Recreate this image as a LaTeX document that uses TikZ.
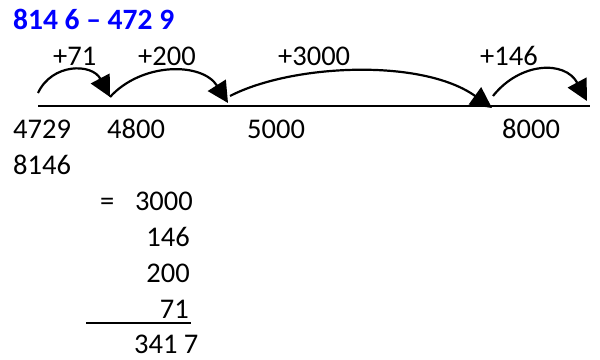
\documentclass[tikz,border=0pt]{standalone}
\usepackage{fontspec}
\setmainfont{Carlito}
\usetikzlibrary{arrows.meta}
\definecolor{titleblue}{RGB}{0,0,255}
\tikzset{
  num/.style={inner sep=0pt, anchor=base west, font=\fontsize{28.5}{34}\selectfont},
  numr/.style={num, anchor=base east},
  jump/.style={line width=2.2pt, -{Triangle[length=21pt,width=21pt]}},
}

\begin{document}
\begin{tikzpicture}[x=1pt, y=-1pt]
		%%%%% START %%%%%
		\useasboundingbox (0, 0) rectangle (600, 359);
		
		\node[num, font=\fontsize{29.5}{34}\selectfont\bfseries, color=titleblue] (title) at (13, 29) {814 6 -- 472 9};
		
		\draw[line width=2pt] (38, 106) -- (590, 106);
		
		\node[num] (n4729) at (13, 138) {4729};
		\node[num] (n4800) at (107, 138) {4800};
		\node[num] (n5000) at (247, 138) {5000};
		\node[num] (n8000) at (502, 138) {8000};
		\node[num] (n8146) at (13, 174) {8146};
		
		\coordinate (s1) at (38, 93);
		\coordinate (e1) at (110, 97);
		\coordinate (e2) at (228, 103);
		\coordinate (s3) at (230, 96);
		\coordinate (e3) at (492, 108);
		\coordinate (s4) at (493, 96);
		\coordinate (e4) at (587, 101);
		
		\draw[jump] (s1) .. controls (52, 63) and (92, 63) .. (e1);
		\draw[jump] (e1) .. controls (142, 62) and (202, 62) .. (e2);
		\draw[jump] (s3) .. controls (292, 64) and (422, 58) .. (e3);
		\draw[jump] (s4) .. controls (520, 62) and (565, 60) .. (e4);
		
		\node[num] (j71) at (53, 65) {+71};
		\node[num] (j200) at (138, 65) {+200};
		\node[num] (j3000) at (278, 65) {+3000};
		\node[num] (j146) at (480, 65) {+146};
		
		\node[num] (eq) at (100, 210) {=};
		\node[numr] (r3000) at (193, 210) {3000};
		\node[numr] (r146) at (190, 246) {146};
		\node[numr] (r200) at (190, 282) {200};
		\node[numr] (r71) at (189, 318) {71};
		\draw[line width=2pt] (86, 323) -- (191, 323);
		\node[num] (res) at (134, 353) {341 7};
		
		%%%%% END %%%%%
	\end{tikzpicture}
\end{document}
